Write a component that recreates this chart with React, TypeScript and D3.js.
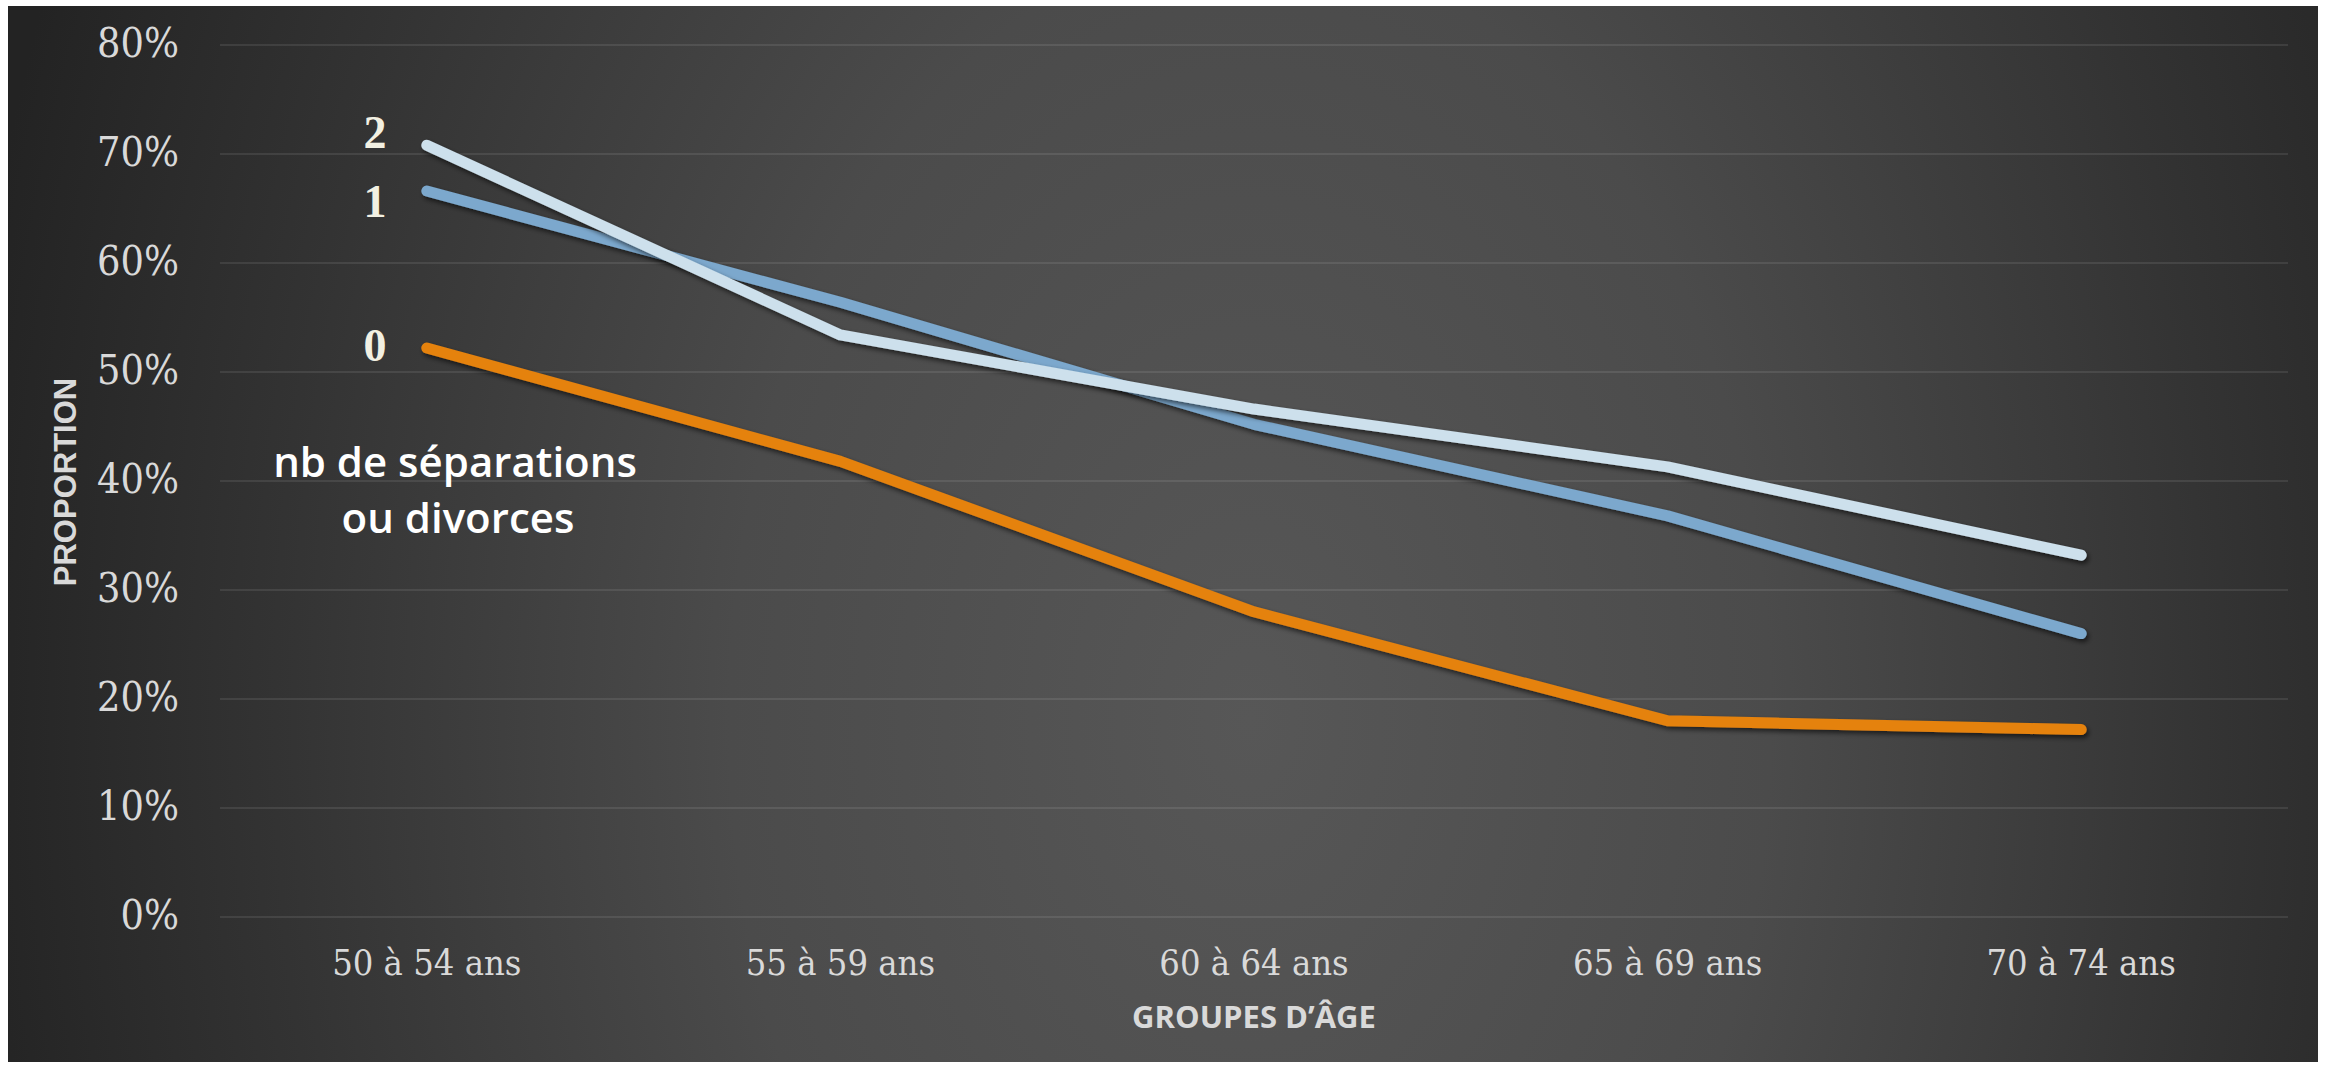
import React from "react";
import * as d3 from "d3";

const categories = ["50 à 54 ans", "55 à 59 ans", "60 à 64 ans", "65 à 69 ans", "70 à 74 ans"];
const seriesNames = ["0", "1", "2"];
const values0 = [0.522, 0.418, 0.28, 0.18, 0.172];
const values1 = [0.666, 0.564, 0.452, 0.368, 0.26];
const values2 = [0.708, 0.534, 0.466, 0.413, 0.332];
const seriesColors = ["#E5820F", "#7BA8CD", "#CDE0EC"];
const labelAt = [0.524, 0.656, 0.72];
const yTicks = [0, 0.1, 0.2, 0.3, 0.4, 0.5, 0.6, 0.7, 0.8];

const W = 2333;
const H = 1067;

export default function App() {
  const x = d3.scaleBand<string>().domain(categories).range([220, 2288]);
  const y = d3.scaleLinear().domain([0, 0.8]).range([917, 45]);
  const cx = (c: string) => (x(c) as number) + x.bandwidth() / 2;
  const all = [values0, values1, values2];
  const line = d3
    .line<number>()
    .x((_, i) => cx(categories[i]))
    .y((d) => y(d));
  const fmt = d3.format(".0%");
  const tickFont = "'DejaVu Serif Condensed', 'DejaVu Serif', serif";
  const order = [0, 1, 2];
  return (
    <svg
      width={W}
      height={H}
      style={{ position: "absolute", left: 0, top: 0 }}
      xmlns="http://www.w3.org/2000/svg"
    >
      <defs>
        <radialGradient
          id="bg"
          cx="1250"
          cy="720"
          r="1300"
          gradientUnits="userSpaceOnUse"
          gradientTransform="translate(1250 720) scale(1 1.5) translate(-1250 -720)"
        >
          <stop offset="0" stopColor="#575757" />
          <stop offset="0.4" stopColor="#4b4b4b" />
          <stop offset="0.75" stopColor="#333333" />
          <stop offset="1" stopColor="#232323" />
        </radialGradient>
        <filter id="sh" x="-10%" y="-10%" width="120%" height="130%">
          <feDropShadow dx="2" dy="3" stdDeviation="2.5" floodColor="#000" floodOpacity="0.6" />
        </filter>
      </defs>
      <rect x={0} y={0} width={W} height={H} fill="#ffffff" />
      <rect x={8} y={6} width={2310} height={1056} fill="url(#bg)" />
      {yTicks.map((t) => (
        <g key={t}>
          <line x1={220} x2={2288} y1={y(t)} y2={y(t)} stroke="#ffffff" strokeOpacity={0.09} strokeWidth={2} />
          <text
            x={179}
            y={y(t) + 1}
            textAnchor="end"
            dominantBaseline="middle"
            fill="#D9D9D9"
            fontFamily={tickFont}
            fontSize={41}
          >
            {fmt(t)}
          </text>
        </g>
      ))}
      {categories.map((c) => (
        <text
          key={c}
          x={cx(c)}
          y={966}
          textAnchor="middle"
          dominantBaseline="middle"
          fill="#D9D9D9"
          fontFamily={tickFont}
          fontSize={36}
        >
          {c}
        </text>
      ))}
      {order.map((i) => (
        <path
          key={i}
          d={line(all[i]) as string}
          fill="none"
          stroke={seriesColors[i]}
          strokeWidth={11}
          strokeLinecap="round"
          strokeLinejoin="round"
          filter="url(#sh)"
        />
      ))}
      {seriesNames.map((s, i) => (
        <text
          key={s}
          x={375}
          y={y(labelAt[i])}
          textAnchor="middle"
          dominantBaseline="central"
          fill="#F2F0E2"
          fontFamily="'Liberation Serif', serif"
          fontWeight="bold"
          fontSize={46}
        >
          {s}
        </text>
      ))}
      <text x={455} y={477} textAnchor="middle" fill="#ffffff" fontFamily="'Open Sans', sans-serif" fontWeight={600} fontSize={42}>
        nb de séparations
      </text>
      <text x={458} y={533} textAnchor="middle" fill="#ffffff" fontFamily="'Open Sans', sans-serif" fontWeight={600} fontSize={42}>
        ou divorces
      </text>
      <text
        transform="translate(65 482) rotate(-90)"
        textAnchor="middle"
        dominantBaseline="central"
        fill="#D9D9D9"
        fontFamily="'Liberation Sans', Arial, sans-serif"
        fontWeight="bold"
        fontSize={31}
      >
        PROPORTION
      </text>
      <text
        x={1254}
        y={1028}
        textAnchor="middle"
        fill="#D9D9D9"
        fontFamily="'Open Sans', sans-serif"
        fontWeight="bold"
        fontSize={31}
      >
        GROUPES D’ÂGE
      </text>
    </svg>
  );
}
